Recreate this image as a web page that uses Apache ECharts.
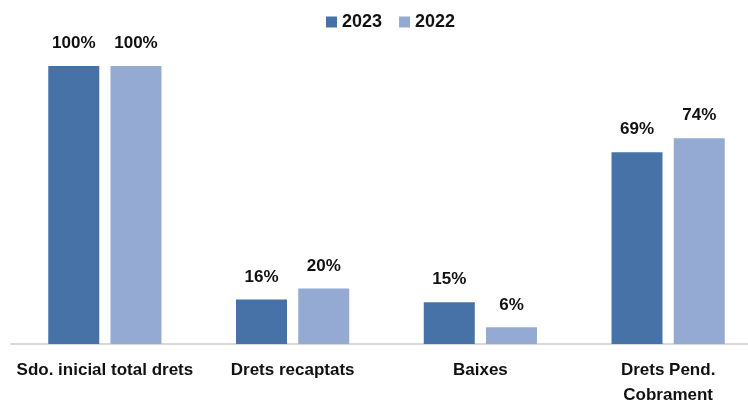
<!DOCTYPE html>
<html><head><meta charset="utf-8">
<script src="https://cdn.jsdelivr.net/npm/echarts@6/dist/echarts.min.js"></script>
<style>html,body{margin:0;padding:0;background:#fff}#c{width:748px;height:403px}</style>
</head><body><div id="c"></div>
<script>
const categories = ['Sdo. inicial total drets', 'Drets recaptats', 'Baixes', 'Drets Pend.\nCobrament'];
const values2023 = [100, 16, 15, 69];
const values2022 = [100, 20, 6, 74];
const seriesNames = ['2023', '2022'];
const FONT = '"Liberation Sans", Arial, sans-serif';
const chart = echarts.init(document.getElementById('c'));
const lbl = {show: true, position: 'top', distance: 14, formatter: '{c}%', color: '#111', fontWeight: 'bold', fontSize: 17, fontFamily: FONT};
chart.setOption({
  animation: false,
  legend: {top: 8, left: 321, itemWidth: 11, itemHeight: 11, itemGap: 17, icon: 'rect',
    textStyle: {fontSize: 18, fontWeight: 'bold', color: '#111', fontFamily: FONT}, data: seriesNames},
  grid: {left: 11, top: 66, bottom: 59, right: -14, containLabel: false, outerBoundsMode: 'none'},
  xAxis: {type: 'category', data: categories,
    axisLine: {lineStyle: {color: '#d9d9d9', width: 2}}, axisTick: {show: false},
    axisLabel: {interval: 0, margin: 14, lineHeight: 25, fontSize: 17, fontWeight: 'bold', color: '#111', fontFamily: FONT}},
  yAxis: {type: 'value', min: 0, max: 100, show: false, splitLine: {show: false}},
  series: [
    {name: seriesNames[0], type: 'bar', data: values2023, barWidth: 51, barGap: '22%', itemStyle: {color: '#4672A7'}, label: lbl},
    {name: seriesNames[1], type: 'bar', data: values2022, barWidth: 51, itemStyle: {color: '#95AAD3'}, label: lbl}
  ]
});
</script></body></html>
